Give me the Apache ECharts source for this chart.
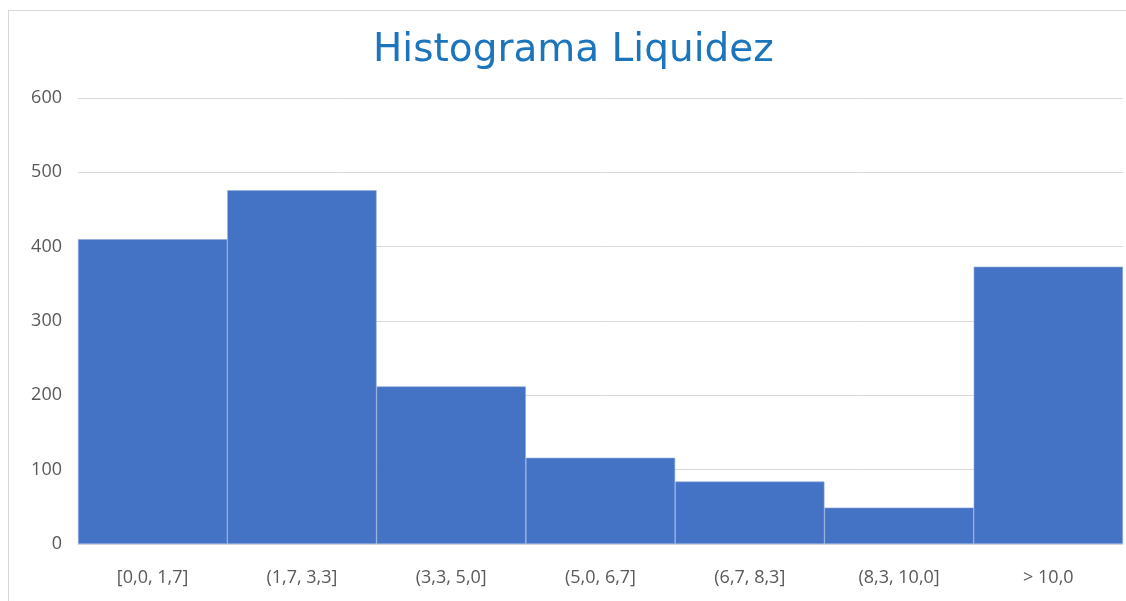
<!DOCTYPE html>
<html>
<head>
<meta charset="utf-8">
<script src="https://cdn.jsdelivr.net/npm/echarts@6/dist/echarts.min.js"></script>
<style>
  html, body { margin: 0; padding: 0; background: #fff; }
  #frame { position: absolute; left: 8px; top: 10px; width: 1130px; height: 600px; border: 1px solid #d9d9d9; }
  #chart { position: absolute; left: 0; top: 0; width: 1126px; height: 601px; }
</style>
</head>
<body>
<div id="frame"></div>
<div id="chart"></div>
<script>
// intervalos de liquidez
const bins = ['[0,0, 1,7]', '(1,7, 3,3]', '(3,3, 5,0]', '(5,0, 6,7]', '(6,7, 8,3]', '(8,3, 10,0]', '> 10,0']
// frecuencias
const counts = [410, 476, 212, 116, 84, 49, 373]
const yTicks = [0, 100, 200, 300, 400, 500, 600]

let chart = echarts.init(document.getElementById('chart'))

let option = {
    animation: false,
    title: {
        text: 'Histograma Liquidez',
        left: 368,
        top: 26,
        textStyle: {
            fontFamily: 'DejaVu Sans',
            fontSize: 39,
            fontWeight: 'normal',
            color: '#1b75bc'
        }
    },
    grid: {
        left: 78,
        right: 3,
        top: 98,
        bottom: 57
    },
    xAxis: {
        type: 'category',
        data: bins,
        axisTick: { show: false },
        axisLine: { lineStyle: { color: '#d9d9d9', width: 1 } },
        axisLabel: {
            margin: 25,
            fontFamily: 'Open Sans',
            fontSize: 18,
            color: '#595959'
        }
    },
    yAxis: {
        type: 'value',
        min: yTicks[0],
        max: yTicks[yTicks.length - 1],
        interval: 100,
        axisLine: { show: false },
        axisTick: { show: false },
        splitLine: { lineStyle: { color: '#d9d9d9', width: 1 } },
        axisLabel: {
            margin: 16,
            fontFamily: 'Open Sans',
            fontSize: 18,
            color: '#595959'
        }
    },
    series: [{
        type: 'bar',
        data: counts,
        barCategoryGap: 0,
        itemStyle: {
            color: '#4472c4',
            borderColor: '#8eaadc',
            borderWidth: 0.6
        }
    }]
}

chart.setOption(option)
</script>
</body>
</html>
